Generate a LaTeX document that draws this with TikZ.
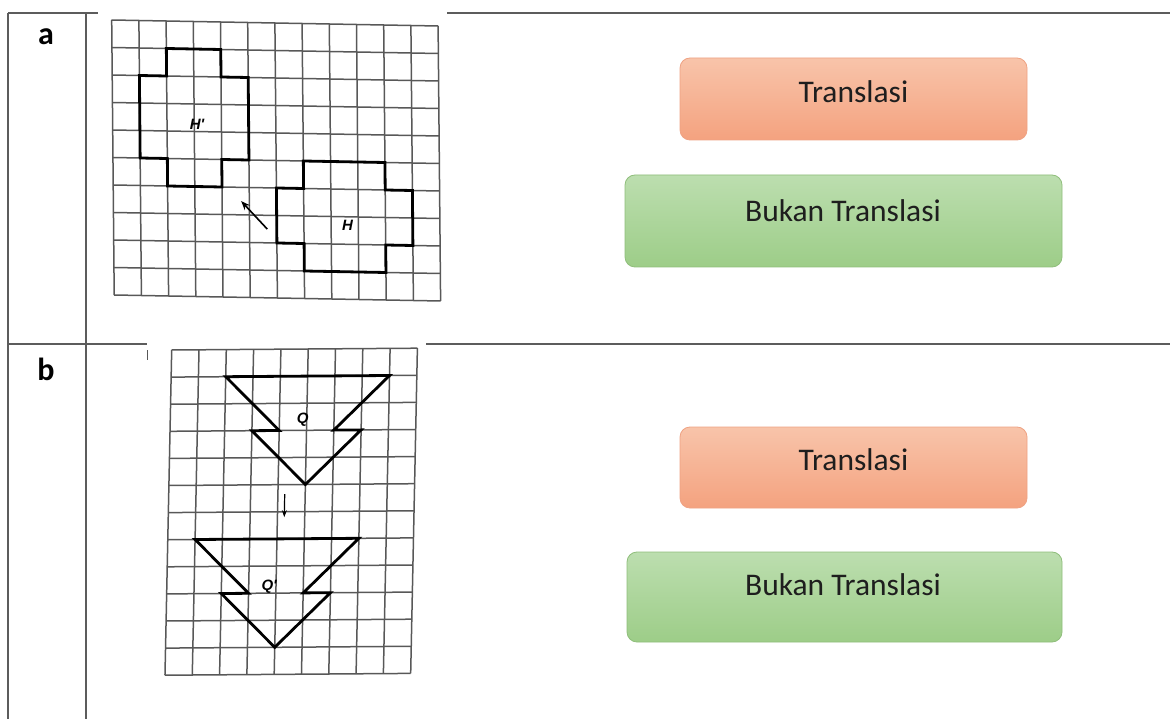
\documentclass[tikz,border=0pt]{standalone}
\usepackage{fontspec}
\setmainfont{Carlito}
\newfontfamily\lsans{Liberation Sans}
\usetikzlibrary{arrows.meta}
\definecolor{tline}{HTML}{5C5C5C}
\definecolor{oTop}{HTML}{F8C4AA}
\definecolor{oBot}{HTML}{F4A27F}
\definecolor{oBrd}{HTML}{EFA283}
\definecolor{gTop}{HTML}{BCDEAF}
\definecolor{gBot}{HTML}{9DCD88}
\definecolor{gBrd}{HTML}{8FBE7B}
\definecolor{gridc}{HTML}{585858}
\definecolor{txt}{HTML}{1E1E1E}
\begin{document}
\begin{tikzpicture}[x=1pt,y=-1pt,
  tabline/.style={draw=tline,line width=2pt},
  boxbase/.style={rounded corners=10pt,inner sep=0pt,line width=0.8pt},
  obox/.style={boxbase,draw=oBrd,top color=oTop,bottom color=oBot},
  gbox/.style={boxbase,draw=gBrd,top color=gTop,bottom color=gBot},
  btxt/.style={anchor=base,text=txt,font=\fontsize{31.5}{31.5}\selectfont,inner sep=0pt},
  rowlbl/.style={anchor=base,text=black,font=\fontsize{32}{32}\selectfont\bfseries,inner sep=0pt},
  gridl/.style={draw=gridc,line width=1.5pt},
  figline/.style={draw=black,line width=2.8pt,line join=miter},
  flabel/.style={text=black,font=\lsans\fontsize{15}{15}\selectfont\bfseries\itshape,inner sep=0pt},
  farrow/.style={draw=black,line width=1.6pt,-{Stealth[length=9pt,width=7pt]}}
]
\useasboundingbox (0,0) rectangle (1170,719);
\fill[white] (0,0) rectangle (1170,719);

% table frame
\coordinate (t1) at (8,13);
\coordinate (t2) at (98,13);
\coordinate (t3) at (447,13);
\coordinate (t4) at (1170,13);
\coordinate (l1) at (8,719);
\coordinate (c0) at (86,13);
\coordinate (c1) at (86,719);
\coordinate (r1) at (8,344);
\coordinate (r2) at (147,344);
\coordinate (r3) at (426,344);
\coordinate (r4) at (1170,344);
\coordinate (k1) at (147,350);
\coordinate (k2) at (147,360);
\draw[tabline] (t1) -- (t2);
\draw[tabline] (t3) -- (t4);
\draw[tabline] (t1) -- (l1);
\draw[tabline] (c0) -- (c1);
\draw[tabline] (r1) -- (r2);
\draw[tabline] (r3) -- (r4);
\draw[draw=gridc,line width=1pt] (k1) -- (k2);

\node[rowlbl] (la) at (46,45) {a};
\node[rowlbl] (lb) at (46,380) {b};

% grid a
\begin{scope}[shift={(111.7,20)},x={(27.2pt,-0.5pt)},y={(0.25pt,-27.5pt)}]
  \foreach \i in {0,...,12} \draw[gridl] (\i,0) -- (\i,10);
  \foreach \j in {0,...,10} \draw[gridl] (0,\j) -- (12,\j);
  \draw[figline] (2,1) -- (4,1) -- (4,2) -- (5,2) -- (5,5) -- (4,5) -- (4,6) -- (2,6) -- (2,5) -- (1,5) -- (1,2) -- (2,2) -- cycle;
  \draw[figline] (7,5) -- (10,5) -- (10,6) -- (11,6) -- (11,8) -- (10,8) -- (10,9) -- (7,9) -- (7,8) -- (6,8) -- (6,6) -- (7,6) -- cycle;
  \node[flabel] (hp) at (3.1,3.75) {H'};
  \node[flabel] (h) at (8.6,7.3) {H};
  \coordinate (aa1) at (5.65,7.5);
  \coordinate (aa2) at (4.7,6.5);
  \draw[farrow] (aa1) -- (aa2);
\end{scope}

% grid b
\begin{scope}[shift={(171.7,350)},x={(27.3pt,0.2pt)},y={(-0.56pt,-27.1pt)}]
  \foreach \i in {0,...,9} \draw[gridl] (\i,0) -- (\i,12);
  \foreach \j in {0,...,12} \draw[gridl] (0,\j) -- (9,\j);
  \draw[figline] (2,1) -- (8,1) -- (6,3) -- (7,3) -- (5,5) -- (3,3) -- (4,3) -- cycle;
  \draw[figline] (1,7) -- (7,7) -- (5,9) -- (6,9) -- (4,11) -- (2,9) -- (3,9) -- cycle;
  \node[flabel] (q) at (4.85,2.6) {Q};
  \node[flabel] (qp) at (3.75,8.75) {Q'};
  \coordinate (ab1) at (4.25,5.35);
  \coordinate (ab2) at (4.25,6.2);
  \draw[farrow,line width=1.2pt,-{Stealth[length=7pt,width=5pt]}] (ab1) -- (ab2);
\end{scope}

% answer boxes
\node[obox,minimum width=347pt,minimum height=82pt] (ta) at (853.5,99) {};
\node[btxt] (tat) at (853.5,103) {Translasi};
\node[gbox,minimum width=437pt,minimum height=92pt] (ba) at (843.5,221) {};
\node[btxt] (bat) at (843,222) {Bukan Translasi};
\node[obox,minimum width=347pt,minimum height=81pt] (tb) at (853.5,467.5) {};
\node[btxt] (tbt) at (853.5,470) {Translasi};
\node[gbox,minimum width=435pt,minimum height=90pt] (bb) at (844.5,597) {};
\node[btxt] (bbt) at (843,595) {Bukan Translasi};
\end{tikzpicture}
\end{document}
